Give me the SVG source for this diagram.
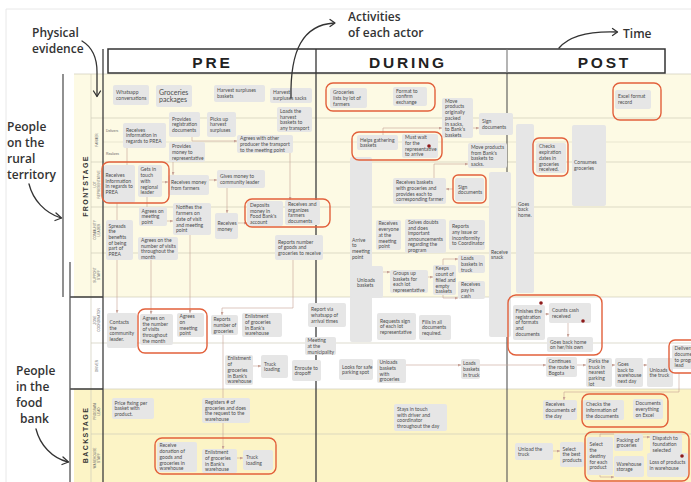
<svg xmlns="http://www.w3.org/2000/svg" width="691" height="482" viewBox="0 0 691 482">
<defs>
<style>
.n{fill:#e6e6e6}
.t{font-family:Lato,"Open Sans","Liberation Sans",sans-serif;font-size:5px;fill:#4d4d4d}
.tb{font-family:Lato,"Open Sans","Liberation Sans",sans-serif;font-size:7px;fill:#4d4d4d}
.hl{fill:none;stroke:#e2603b;stroke-width:1.4}
.c{fill:none;stroke:#c7a196;stroke-width:0.6}
.ca{fill:none;stroke:#c7a196;stroke-width:0.6;marker-end:url(#ah)}
.row{stroke:#cfccb9;stroke-width:0.7}
.dk{stroke:#3d3d3d;stroke-width:1.3}
.ann{font-family:"Open Sans","Noto Sans",sans-serif;font-size:12px;font-weight:600;fill:#333}
.annl{fill:none;stroke:#333;stroke-width:1.3;stroke-linecap:round;stroke-linejoin:round}
.role{font-family:"Liberation Sans",sans-serif;font-size:3.2px;fill:#666;text-anchor:middle}
.sub{font-family:"Liberation Sans",sans-serif;font-size:3.4px;fill:#666}
.stage{font-family:"Liberation Sans",sans-serif;font-size:7px;font-weight:bold;letter-spacing:1.4px;fill:#333;text-anchor:middle}
.hdr{font-family:"Liberation Sans",sans-serif;font-size:15.5px;font-weight:bold;letter-spacing:2.8px;fill:#222;text-anchor:middle}
.dot{fill:#8e1b1b}
</style>
<marker id="ah" viewBox="0 0 4 4" refX="4" refY="2" markerWidth="3" markerHeight="3" orient="auto" markerUnits="userSpaceOnUse"><path d="M0,0 L4,2 L0,4 z" fill="#c7a196"/></marker>
</defs>

<g id="background">
<rect x="0" y="0" width="691" height="482" fill="#ffffff"/>
<path d="M6,482 V9 H691" fill="none" stroke="#e8e8e8" stroke-width="1"/>
<rect x="74" y="74" width="617" height="223" fill="#fdfae4"/>
<rect x="74" y="389" width="617" height="93" fill="#fcf4c6"/>
</g>

<g id="grid">
<line class="row" x1="74" y1="74" x2="691" y2="74"/>
<line class="row" x1="91" y1="118" x2="691" y2="118"/>
<line class="row" x1="103" y1="142" x2="691" y2="142" stroke-opacity="0.6"/>
<line class="row" x1="91" y1="162" x2="691" y2="162"/>
<line class="row" x1="91" y1="207" x2="691" y2="207"/>
<line class="row" x1="91" y1="253" x2="691" y2="253"/>
<line class="row" x1="74" y1="297" x2="691" y2="297"/>
<line class="row" x1="91" y1="343" x2="691" y2="343"/>
<line class="row" x1="74" y1="389" x2="691" y2="389"/>
<line class="row" x1="91" y1="434" x2="691" y2="434" stroke="#b5b2a2"/>
<line class="row" x1="91" y1="74" x2="91" y2="482"/>
<line class="dk" x1="70" y1="297" x2="103" y2="297"/>
<line class="dk" x1="70" y1="389" x2="103" y2="389"/>
<line class="dk" x1="103" y1="49" x2="103" y2="482"/>
<line class="dk" x1="316" y1="73" x2="316" y2="482"/>
<line x1="507" y1="73" x2="507" y2="482" stroke="#555" stroke-width="1.1"/>
<line x1="63" y1="74" x2="63" y2="297" stroke="#555" stroke-width="1.3"/>
<line x1="70" y1="262" x2="70" y2="482" stroke="#555" stroke-width="1.3"/>
</g>

<g id="header">
<rect x="108" y="49" width="557" height="24" fill="#fff" stroke="#333" stroke-width="1.5"/>
<line x1="316" y1="49" x2="316" y2="73" stroke="#333" stroke-width="1.3"/>
<line x1="507" y1="49" x2="507" y2="73" stroke="#777" stroke-width="1.1"/>
<text class="hdr" x="212.4" y="68">PRE</text>
<text class="hdr" x="408" y="68">DURING</text>
<text class="hdr" x="604.4" y="68">POST</text>
</g>

<g id="lane-labels">
<text class="stage" transform="translate(87.5,186) rotate(-90)">FRONTSTAGE</text>
<text class="stage" transform="translate(87.5,435) rotate(-90)">BACKSTAGE</text>
<text class="role" transform="translate(98.2,140) rotate(-90)">FARMER</text>
<text class="role" transform="translate(96.3,184.5) rotate(-90)">LOT</text>
<text class="role" transform="translate(100.3,184.5) rotate(-90)">REPRESENTATIVE</text>
<text class="role" transform="translate(96.3,230) rotate(-90)">COMMUNITY</text>
<text class="role" transform="translate(100.3,230) rotate(-90)">LEADER</text>
<text class="role" transform="translate(96.3,275) rotate(-90)">SUPPORT</text>
<text class="role" transform="translate(100.3,275) rotate(-90)">STAFF</text>
<text class="role" transform="translate(96.3,320) rotate(-90)">ZONE</text>
<text class="role" transform="translate(100.3,320) rotate(-90)">COORDINATOR</text>
<text class="role" transform="translate(98.2,366) rotate(-90)">DRIVER</text>
<text class="role" transform="translate(96.3,411.5) rotate(-90)">PROGRAM</text>
<text class="role" transform="translate(100.3,411.5) rotate(-90)">LEAD</text>
<text class="role" transform="translate(96.3,458) rotate(-90)">WAREHOUSE</text>
<text class="role" transform="translate(100.3,458) rotate(-90)">STAFF</text>
<text class="sub" x="106" y="132">Delivers</text>
<text class="sub" x="106" y="155">Realizes</text>
</g>

<g id="connectors">
<path class="c" d="M127,148 V165"/>
<path class="ca" d="M192,137 V141 H237"/>
<path class="ca" d="M290,153 V200"/>
<path class="ca" d="M173,162 V175"/>
<path class="ca" d="M162,182 H168"/>
<path class="ca" d="M209,180 H217"/>
<path class="ca" d="M227,188 V213"/>
<path class="ca" d="M238,223 H247"/>
<path class="ca" d="M167,221 H173"/>
<path class="c" d="M147,197 V207"/>
<path class="c" d="M117,203 V220"/>
<path class="ca" d="M117,260 V313"/>
<path class="ca" d="M151,260 V314"/>
<path class="ca" d="M190,235 V313"/>
<path class="ca" d="M293,260 V308 H222 V315"/>
<path class="ca" d="M223,335 V449"/>
<path class="ca" d="M253,366 H261"/>
<path class="ca" d="M237,458 H243"/>
<path class="ca" d="M383,135 V128 H442"/>
<path class="ca" d="M473,128 H479"/>
<path class="ca" d="M434,178 V164 H468"/>
<path class="ca" d="M453,189 H446"/>
<path class="ca" d="M383,272 H390"/>
<path class="ca" d="M428,277 H433"/>
<path class="ca" d="M443,265 V259 H458"/>
<path class="ca" d="M443,295 V298 H458"/>
<path class="ca" d="M406,365 H461"/>
<path class="ca" d="M480,365 H546"/>
<path class="ca" d="M577,365 H586"/>
<path class="ca" d="M612,365 H615"/>
<path class="ca" d="M643,365 H647"/>
<path class="ca" d="M679,373 V392 H564 V400"/>
<path class="ca" d="M545,314 H549"/>
<path class="ca" d="M568,323 V337"/>
<path class="ca" d="M553,451 H560"/>
<path class="c" d="M600,437 V434 H614"/>
<path class="ca" d="M600,475 V477 H614"/>
<path class="ca" d="M643,437 H650"/>
</g>

<g id="pe-whatsapp"><rect class="n" x="113" y="85" width="36" height="20" rx="2"/><text class="t" y="93.9"><tspan x="116">Whatsapp</tspan><tspan x="116" dy="5.7">conversations</tspan></text></g>
<g id="pe-groceries"><rect class="n" x="156" y="85" width="36" height="22" rx="2"/><text class="tb" y="95"><tspan x="159">Groceries</tspan><tspan x="159" dy="7">packages</tspan></text></g>
<g id="pe-harvest-baskets"><rect class="n" x="214" y="85" width="51" height="17" rx="2"/><text class="t" y="92.4"><tspan x="217">Harvest surpluses</tspan><tspan x="217" dy="5.7">baskets</tspan></text></g>
<g id="pe-harvest-sacks"><rect class="n" x="270" y="88" width="42" height="15" rx="2"/><text class="t" y="94.4"><tspan x="273">Harvest</tspan><tspan x="273" dy="5.7">surpluses sacks</tspan></text></g>
<g id="pe-groceries-lists"><rect class="n" x="330" y="88" width="37" height="20" rx="2"/><text class="t" y="94.1"><tspan x="333">Groceries</tspan><tspan x="333" dy="5.7">lists by lot of</tspan><tspan x="333" dy="5.7">farmers</tspan></text></g>
<g id="pe-format"><rect class="n" x="393" y="87" width="34" height="19" rx="2"/><text class="t" y="92.6"><tspan x="396">Format to</tspan><tspan x="396" dy="5.7">confirm</tspan><tspan x="396" dy="5.7">exchange</tspan></text></g>
<g id="pe-excel"><rect class="n" x="615" y="90" width="36" height="19" rx="2"/><text class="t" y="98.4"><tspan x="618">Excel format</tspan><tspan x="618" dy="5.7">record</tspan></text></g>

<g id="f-receives-info"><rect class="n" x="123" y="123" width="43" height="25" rx="2"/><text class="t" y="131.6"><tspan x="126">Receives</tspan><tspan x="126" dy="5.7">information in</tspan><tspan x="126" dy="5.7">regards to PREA</tspan></text></g>
<g id="f-provides-reg"><rect class="n" x="169" y="112" width="31" height="25" rx="2"/><text class="t" y="120.6"><tspan x="172">Provides</tspan><tspan x="172" dy="5.7">registration</tspan><tspan x="172" dy="5.7">documents</tspan></text></g>
<g id="f-picks"><rect class="n" x="207" y="112" width="29" height="25" rx="2"/><text class="t" y="120.6"><tspan x="210">Picks up</tspan><tspan x="210" dy="5.7">harvest</tspan><tspan x="210" dy="5.7">surpluses</tspan></text></g>
<g id="f-loads"><rect class="n" x="277" y="107" width="35" height="25" rx="2"/><text class="t" y="112.8"><tspan x="280">Loads the</tspan><tspan x="280" dy="5.7">harvest</tspan><tspan x="280" dy="5.7">baskets to</tspan><tspan x="280" dy="5.7">any transport</tspan></text></g>
<g id="f-provides-money"><rect class="n" x="169" y="142" width="36" height="20" rx="2"/><text class="t" y="148.1"><tspan x="172">Provides</tspan><tspan x="172" dy="5.7">money to</tspan><tspan x="172" dy="5.7">representative</tspan></text></g>
<g id="f-agrees-transport"><rect class="n" x="237" y="135" width="56" height="18" rx="2"/><text class="t" y="140.1"><tspan x="240">Agrees with other</tspan><tspan x="240" dy="5.7">producer the transport</tspan><tspan x="240" dy="5.7">to the meeting point</tspan></text></g>
<g id="d-move-sacks"><rect class="n" x="442" y="98" width="31" height="40" rx="2"/><text class="t" y="102.7"><tspan x="445">Move</tspan><tspan x="445" dy="5.7">products</tspan><tspan x="445" dy="5.7">originally</tspan><tspan x="445" dy="5.7">packed</tspan><tspan x="445" dy="5.7">in sacks,</tspan><tspan x="445" dy="5.7">to Bank's</tspan><tspan x="445" dy="5.7">baskets</tspan></text></g>
<g id="d-sign1"><rect class="n" x="479" y="113" width="34" height="22" rx="2"/><text class="t" y="123"><tspan x="482">Sign</tspan><tspan x="482" dy="5.7">documents</tspan></text></g>
<g id="d-helps"><rect class="n" x="357" y="135" width="41" height="15" rx="2"/><text class="t" y="141.5"><tspan x="360">Helps gathering</tspan><tspan x="360" dy="5.7">baskets</tspan></text></g>
<g id="d-must-wait"><rect class="n" x="402" y="134" width="36" height="24" rx="2"/><text class="t" y="139.3"><tspan x="405">Must wait</tspan><tspan x="405" dy="5.7">for the</tspan><tspan x="405" dy="5.7">representative</tspan><tspan x="405" dy="5.7">to arrive</tspan></text></g>
<g id="d-move-baskets"><rect class="n" x="468" y="143" width="39" height="25" rx="2"/><text class="t" y="148.8"><tspan x="471">Move products</tspan><tspan x="471" dy="5.7">from Bank's</tspan><tspan x="471" dy="5.7">baskets to</tspan><tspan x="471" dy="5.7">sacks.</tspan></text></g>
<g id="po-checks-exp"><rect class="n" x="536" y="143" width="30" height="30" rx="2"/><text class="t" y="148.4"><tspan x="539">Checks</tspan><tspan x="539" dy="5.7">expiration</tspan><tspan x="539" dy="5.7">dates in</tspan><tspan x="539" dy="5.7">groceries</tspan><tspan x="539" dy="5.7">received.</tspan></text></g>
<g id="po-consumes"><rect class="n" x="572" y="125" width="34" height="81" rx="2"/><text class="t" y="164.4"><tspan x="574">Consumes</tspan><tspan x="574" dy="5.7">groceries</tspan></text></g>
<g id="po-goes-home"><rect class="n" x="516" y="124" width="18" height="169" rx="2"/><text class="t" y="205.5"><tspan x="518">Goes</tspan><tspan x="518" dy="5.7">back</tspan><tspan x="518" dy="5.7">home.</tspan></text></g>

<g id="l-receives-info"><rect class="n" x="104" y="165" width="31" height="38" rx="2"/><text class="t" y="177"><tspan x="105.5">Receives</tspan><tspan x="105.5" dy="5.7">information</tspan><tspan x="105.5" dy="5.7">in regards to</tspan><tspan x="105.5" dy="5.7">PREA</tspan></text></g>
<g id="l-gets"><rect class="n" x="138" y="165" width="24" height="32" rx="2"/><text class="t" y="171.4"><tspan x="140.5">Gets in</tspan><tspan x="140.5" dy="5.7">touch</tspan><tspan x="140.5" dy="5.7">with</tspan><tspan x="140.5" dy="5.7">regional</tspan><tspan x="140.5" dy="5.7">leader</tspan></text></g>
<g id="l-receives-money"><rect class="n" x="168" y="175" width="41" height="20" rx="2"/><text class="t" y="184"><tspan x="171">Receives money</tspan><tspan x="171" dy="5.7">from farmers</tspan></text></g>
<g id="l-gives"><rect class="n" x="217" y="170" width="48" height="18" rx="2"/><text class="t" y="178"><tspan x="220">Gives money to</tspan><tspan x="220" dy="5.7">community leader</tspan></text></g>
<g id="l-deposits"><rect class="n" x="247" y="201" width="36" height="25" rx="2"/><text class="t" y="206.8"><tspan x="250">Deposits</tspan><tspan x="250" dy="5.7">money in</tspan><tspan x="250" dy="5.7">Food Bank's</tspan><tspan x="250" dy="5.7">account</tspan></text></g>
<g id="l-receives-org"><rect class="n" x="285" y="200" width="35" height="25" rx="2"/><text class="t" y="205.8"><tspan x="288">Receives and</tspan><tspan x="288" dy="5.7">organizes</tspan><tspan x="288" dy="5.7">farmers</tspan><tspan x="288" dy="5.7">documents</tspan></text></g>
<g id="d-receives-baskets"><rect class="n" x="393" y="178" width="53" height="26" rx="2"/><text class="t" y="184.3"><tspan x="396">Receives baskets</tspan><tspan x="396" dy="5.7">with groceries and</tspan><tspan x="396" dy="5.7">provides each to</tspan><tspan x="396" dy="5.7">corresponding farmer</tspan></text></g>
<g id="d-sign2"><rect class="n" x="455" y="178" width="29" height="23" rx="2"/><text class="t" y="188.5"><tspan x="458">Sign</tspan><tspan x="458" dy="5.7">documents</tspan></text></g>

<g id="c-agrees-meeting"><rect class="n" x="139" y="207" width="28" height="19" rx="2"/><text class="t" y="212.6"><tspan x="141.5">Agrees on</tspan><tspan x="141.5" dy="5.7">meeting</tspan><tspan x="141.5" dy="5.7">point</tspan></text></g>
<g id="c-notifies"><rect class="n" x="173" y="203" width="38" height="32" rx="2"/><text class="t" y="209.4"><tspan x="176">Notifies the</tspan><tspan x="176" dy="5.7">farmers on</tspan><tspan x="176" dy="5.7">date of visit</tspan><tspan x="176" dy="5.7">and meeting</tspan><tspan x="176" dy="5.7">point</tspan></text></g>
<g id="c-receives-money"><rect class="n" x="215" y="213" width="23" height="26" rx="2"/><text class="t" y="225"><tspan x="217.5">Receives</tspan><tspan x="217.5" dy="5.7">money</tspan></text></g>
<g id="c-spreads"><rect class="n" x="106" y="220" width="27" height="40" rx="2"/><text class="t" y="227.6"><tspan x="108.5">Spreads</tspan><tspan x="108.5" dy="5.7">the</tspan><tspan x="108.5" dy="5.7">benefits</tspan><tspan x="108.5" dy="5.7">of being</tspan><tspan x="108.5" dy="5.7">part of</tspan><tspan x="108.5" dy="5.7">PREA</tspan></text></g>
<g id="c-agrees-visits"><rect class="n" x="138" y="237" width="40" height="23" rx="2"/><text class="t" y="241.8"><tspan x="141">Agrees on the</tspan><tspan x="141" dy="5.7">number of visits</tspan><tspan x="141" dy="5.7">throughout the</tspan><tspan x="141" dy="5.7">month</tspan></text></g>
<g id="c-reports"><rect class="n" x="275" y="235" width="48" height="25" rx="2"/><text class="t" y="243.6"><tspan x="278">Reports number</tspan><tspan x="278" dy="5.7">of goods and</tspan><tspan x="278" dy="5.7">groceries to receive</tspan></text></g>
<g id="d-arrive"><rect class="n" x="350" y="157" width="22" height="185" rx="2"/><text class="t" y="241.5"><tspan x="352">Arrive</tspan><tspan x="352" dy="5.7">to</tspan><tspan x="352" dy="5.7">meeting</tspan><tspan x="352" dy="5.7">point</tspan></text></g>
<g id="d-unloads"><rect class="n" x="350" y="266" width="33" height="32" rx="2"/><text class="t" y="281.5"><tspan x="357">Unloads</tspan><tspan x="357" dy="5.7">baskets</tspan></text></g>
<g id="d-receives-everyone"><rect class="n" x="376" y="220" width="25" height="30" rx="2"/><text class="t" y="225.4"><tspan x="378.5">Receives</tspan><tspan x="378.5" dy="5.7">everyone</tspan><tspan x="378.5" dy="5.7">at the</tspan><tspan x="378.5" dy="5.7">meeting</tspan><tspan x="378.5" dy="5.7">point</tspan></text></g>
<g id="d-solves"><rect class="n" x="405" y="219" width="41" height="34" rx="2"/><text class="t" y="224.1"><tspan x="408">Solves doubts</tspan><tspan x="408" dy="5.5">and does</tspan><tspan x="408" dy="5.5">important</tspan><tspan x="408" dy="5.5">announcements</tspan><tspan x="408" dy="5.5">regarding the</tspan><tspan x="408" dy="5.5">program</tspan></text></g>
<g id="d-reports-issue"><rect class="n" x="449" y="220" width="36" height="30" rx="2"/><text class="t" y="228.3"><tspan x="452">Reports</tspan><tspan x="452" dy="5.7">any issue or</tspan><tspan x="452" dy="5.7">inconformity</tspan><tspan x="452" dy="5.7">to Coordinator</tspan></text></g>
<g id="d-receive-snack"><rect class="n" x="489" y="172" width="22" height="165" rx="2"/><text class="t" y="253.5"><tspan x="491">Receive</tspan><tspan x="491" dy="5.7">snack</tspan></text></g>
<g id="d-groups"><rect class="n" x="390" y="270" width="38" height="23" rx="2"/><text class="t" y="274.8"><tspan x="393">Groups up</tspan><tspan x="393" dy="5.7">baskets for</tspan><tspan x="393" dy="5.7">each lot</tspan><tspan x="393" dy="5.7">representative</tspan></text></g>
<g id="d-keeps"><rect class="n" x="433" y="265" width="23" height="30" rx="2"/><text class="t" y="270.4"><tspan x="435.5">Keeps</tspan><tspan x="435.5" dy="5.7">count of</tspan><tspan x="435.5" dy="5.7">filled and</tspan><tspan x="435.5" dy="5.7">empty</tspan><tspan x="435.5" dy="5.7">baskets</tspan></text></g>
<g id="d-loads-truck"><rect class="n" x="458" y="255" width="27" height="18" rx="2"/><text class="t" y="260.1"><tspan x="461">Loads</tspan><tspan x="461" dy="5.7">baskets in</tspan><tspan x="461" dy="5.7">truck</tspan></text></g>
<g id="d-receives-pay"><rect class="n" x="458" y="281" width="27" height="18" rx="2"/><text class="t" y="286.1"><tspan x="461">Receives</tspan><tspan x="461" dy="5.7">pay in</tspan><tspan x="461" dy="5.7">cash</tspan></text></g>

<g id="z-contacts"><rect class="n" x="107" y="313" width="30" height="35" rx="2"/><text class="t" y="323.8"><tspan x="109.5">Contacts</tspan><tspan x="109.5" dy="5.7">the</tspan><tspan x="109.5" dy="5.7">community</tspan><tspan x="109.5" dy="5.7">leader.</tspan></text></g>
<g id="z-agrees-visits"><rect class="n" x="140" y="314" width="33" height="31" rx="2"/><text class="t" y="319.9"><tspan x="142.5">Agrees on</tspan><tspan x="142.5" dy="5.7">the number</tspan><tspan x="142.5" dy="5.7">of visits</tspan><tspan x="142.5" dy="5.7">throughout</tspan><tspan x="142.5" dy="5.7">the month</tspan></text></g>
<g id="z-agrees-meeting"><rect class="n" x="177" y="313" width="27" height="24" rx="2"/><text class="t" y="318.3"><tspan x="179.5">Agrees</tspan><tspan x="179.5" dy="5.7">on</tspan><tspan x="179.5" dy="5.7">meeting</tspan><tspan x="179.5" dy="5.7">point</tspan></text></g>
<g id="z-reports"><rect class="n" x="211" y="315" width="27" height="20" rx="2"/><text class="t" y="321.1"><tspan x="213.5">Reports</tspan><tspan x="213.5" dy="5.7">number of</tspan><tspan x="213.5" dy="5.7">groceries</tspan></text></g>
<g id="z-enlistment"><rect class="n" x="242" y="313" width="40" height="24" rx="2"/><text class="t" y="318.3"><tspan x="245">Enlistment</tspan><tspan x="245" dy="5.7">of groceries</tspan><tspan x="245" dy="5.7">in Bank's</tspan><tspan x="245" dy="5.7">warehouse</tspan></text></g>
<g id="d-report-whatsapp"><rect class="n" x="308" y="303" width="38" height="24" rx="2"/><text class="t" y="311.1"><tspan x="311">Report via</tspan><tspan x="311" dy="5.7">whatsapp of</tspan><tspan x="311" dy="5.7">arrival times</tspan></text></g>
<g id="d-meeting-municipality"><rect class="n" x="305" y="337" width="31" height="18" rx="2"/><text class="t" y="342.1"><tspan x="307.5">Meeting</tspan><tspan x="307.5" dy="5.7">at the</tspan><tspan x="307.5" dy="5.7">municipality</tspan></text></g>
<g id="d-requests"><rect class="n" x="377" y="313" width="39" height="27" rx="2"/><text class="t" y="322.6"><tspan x="380">Requests sign</tspan><tspan x="380" dy="5.7">of each lot</tspan><tspan x="380" dy="5.7">representative</tspan></text></g>
<g id="d-fills"><rect class="n" x="419" y="315" width="32" height="25" rx="2"/><text class="t" y="323.6"><tspan x="422">Fills in all</tspan><tspan x="422" dy="5.7">documents</tspan><tspan x="422" dy="5.7">required.</tspan></text></g>
<g id="po-finishes"><rect class="n" x="513" y="305" width="32" height="35" rx="2"/><text class="t" y="312.9"><tspan x="515.5">Finishes the</tspan><tspan x="515.5" dy="5.7">registration</tspan><tspan x="515.5" dy="5.7">of formats</tspan><tspan x="515.5" dy="5.7">and</tspan><tspan x="515.5" dy="5.7">documents</tspan></text></g>
<g id="po-counts"><rect class="n" x="549" y="303" width="42" height="20" rx="2"/><text class="t" y="312"><tspan x="552">Counts cash</tspan><tspan x="552" dy="5.7">received</tspan></text></g>
<g id="po-goes-home2"><rect class="n" x="547" y="337" width="46" height="15" rx="2"/><text class="t" y="343.5"><tspan x="550">Goes back home</tspan><tspan x="550" dy="5.7">on her/his own</tspan></text></g>

<g id="dr-enlistment"><rect class="n" x="225" y="355" width="28" height="30" rx="2"/><text class="t" y="360.4"><tspan x="227.5">Enlistment</tspan><tspan x="227.5" dy="5.7">of</tspan><tspan x="227.5" dy="5.7">groceries</tspan><tspan x="227.5" dy="5.7">in Bank's</tspan><tspan x="227.5" dy="5.7">warehouse</tspan></text></g>
<g id="dr-truck"><rect class="n" x="261" y="355" width="27" height="23" rx="2"/><text class="t" y="365.5"><tspan x="264">Truck</tspan><tspan x="264" dy="5.7">loading</tspan></text></g>
<g id="dr-enroute"><rect class="n" x="292" y="360" width="29" height="21" rx="2"/><text class="t" y="369.5"><tspan x="294.5">Enroute to</tspan><tspan x="294.5" dy="5.7">dropoff</tspan></text></g>
<g id="dr-looks"><rect class="n" x="339" y="359" width="34" height="21" rx="2"/><text class="t" y="368.5"><tspan x="342">Looks for safe</tspan><tspan x="342" dy="5.7">parking spot</tspan></text></g>
<g id="dr-unloads"><rect class="n" x="377" y="359" width="29" height="24" rx="2"/><text class="t" y="364.3"><tspan x="379.5">Unloads</tspan><tspan x="379.5" dy="5.7">baskets</tspan><tspan x="379.5" dy="5.7">with</tspan><tspan x="379.5" dy="5.7">groceries</tspan></text></g>
<g id="dr-loads"><rect class="n" x="461" y="359" width="19" height="20" rx="2"/><text class="t" y="365.1"><tspan x="463">Loads</tspan><tspan x="463" dy="5.7">baskets</tspan><tspan x="463" dy="5.7">in truck</tspan></text></g>
<g id="dr-continues"><rect class="n" x="546" y="357" width="31" height="20" rx="2"/><text class="t" y="363.1"><tspan x="548.5">Continues</tspan><tspan x="548.5" dy="5.7">the route to</tspan><tspan x="548.5" dy="5.7">Bogota</tspan></text></g>
<g id="dr-parks"><rect class="n" x="586" y="358" width="26" height="29" rx="2"/><text class="t" y="362.9"><tspan x="588.5">Parks the</tspan><tspan x="588.5" dy="5.7">truck in</tspan><tspan x="588.5" dy="5.7">nearest</tspan><tspan x="588.5" dy="5.7">parking</tspan><tspan x="588.5" dy="5.7">lot</tspan></text></g>
<g id="dr-goes-back"><rect class="n" x="615" y="358" width="28" height="29" rx="2"/><text class="t" y="365.8"><tspan x="617.5">Goes</tspan><tspan x="617.5" dy="5.7">back to</tspan><tspan x="617.5" dy="5.7">warehouse</tspan><tspan x="617.5" dy="5.7">next day</tspan></text></g>
<g id="dr-unloads-truck"><rect class="n" x="647" y="358" width="26" height="29" rx="2"/><text class="t" y="371.5"><tspan x="649.5">Unloads</tspan><tspan x="649.5" dy="5.7">the truck</tspan></text></g>
<g id="dr-delivers"><rect class="n" x="672" y="345" width="30" height="24" rx="2"/><text class="t" y="350.3"><tspan x="674.5">Delivers</tspan><tspan x="674.5" dy="5.7">documents</tspan><tspan x="674.5" dy="5.7">to program</tspan><tspan x="674.5" dy="5.7">lead</tspan></text></g>

<g id="p-price"><rect class="n" x="112" y="398" width="42" height="21" rx="2"/><text class="t" y="404.6"><tspan x="114.5">Price fixing per</tspan><tspan x="114.5" dy="5.7">basket with</tspan><tspan x="114.5" dy="5.7">product.</tspan></text></g>
<g id="p-registers"><rect class="n" x="202" y="398" width="48" height="25" rx="2"/><text class="t" y="403.8"><tspan x="205">Registers # of</tspan><tspan x="205" dy="5.7">groceries and does</tspan><tspan x="205" dy="5.7">the request to the</tspan><tspan x="205" dy="5.7">warehouse</tspan></text></g>
<g id="p-stays"><rect class="n" x="394" y="404" width="53" height="27" rx="2"/><text class="t" y="410.8"><tspan x="397">Stays in touch</tspan><tspan x="397" dy="5.7">with driver and</tspan><tspan x="397" dy="5.7">coordinator</tspan><tspan x="397" dy="5.7">throughout the day</tspan></text></g>
<g id="p-receives-docs"><rect class="n" x="543" y="400" width="34" height="20" rx="2"/><text class="t" y="406.1"><tspan x="545.5">Receives</tspan><tspan x="545.5" dy="5.7">documents of</tspan><tspan x="545.5" dy="5.7">the day</tspan></text></g>
<g id="p-checks"><rect class="n" x="583" y="400" width="41" height="20" rx="2"/><text class="t" y="406.1"><tspan x="586">Checks the</tspan><tspan x="586" dy="5.7">information of</tspan><tspan x="586" dy="5.7">the documents</tspan></text></g>
<g id="p-documents"><rect class="n" x="633" y="399" width="30" height="20" rx="2"/><text class="t" y="405.1"><tspan x="635.5">Documents</tspan><tspan x="635.5" dy="5.7">everything</tspan><tspan x="635.5" dy="5.7">on Excel</tspan></text></g>

<g id="w-receive-donation"><rect class="n" x="157" y="442" width="40" height="30" rx="2"/><text class="t" y="447.4"><tspan x="159.5">Receive</tspan><tspan x="159.5" dy="5.7">donation of</tspan><tspan x="159.5" dy="5.7">goods and</tspan><tspan x="159.5" dy="5.7">groceries in</tspan><tspan x="159.5" dy="5.7">warehouse</tspan></text></g>
<g id="w-enlistment"><rect class="n" x="202" y="449" width="35" height="24" rx="2"/><text class="t" y="454.3"><tspan x="205">Enlistment</tspan><tspan x="205" dy="5.7">of groceries</tspan><tspan x="205" dy="5.7">in Bank's</tspan><tspan x="205" dy="5.7">warehouse</tspan></text></g>
<g id="w-truck"><rect class="n" x="243" y="450" width="30" height="20" rx="2"/><text class="t" y="459"><tspan x="246">Truck</tspan><tspan x="246" dy="5.7">loading</tspan></text></g>
<g id="w-unload"><rect class="n" x="515" y="443" width="38" height="17" rx="2"/><text class="t" y="450.5"><tspan x="518">Unload the</tspan><tspan x="518" dy="5.7">truck</tspan></text></g>
<g id="w-select-best"><rect class="n" x="560" y="442" width="24" height="25" rx="2"/><text class="t" y="450.6"><tspan x="562.5">Select</tspan><tspan x="562.5" dy="5.7">the best</tspan><tspan x="562.5" dy="5.7">products</tspan></text></g>
<g id="w-select-destiny"><rect class="n" x="587" y="437" width="26" height="38" rx="2"/><text class="t" y="446.4"><tspan x="589.5">Select</tspan><tspan x="589.5" dy="5.7">the</tspan><tspan x="589.5" dy="5.7">destiny</tspan><tspan x="589.5" dy="5.7">for each</tspan><tspan x="589.5" dy="5.7">product</tspan></text></g>
<g id="w-packing"><rect class="n" x="614" y="434" width="29" height="17" rx="2"/><text class="t" y="441.5"><tspan x="616.5">Packing of</tspan><tspan x="616.5" dy="5.7">groceries</tspan></text></g>
<g id="w-dispatch"><rect class="n" x="650" y="434" width="32" height="20" rx="2"/><text class="t" y="440.1"><tspan x="652.5">Dispatch to</tspan><tspan x="652.5" dy="5.7">foundation</tspan><tspan x="652.5" dy="5.7">selected</tspan></text></g>
<g id="w-storage"><rect class="n" x="614" y="456" width="30" height="21" rx="2"/><text class="t" y="465.5"><tspan x="616.5">Warehouse</tspan><tspan x="616.5" dy="5.7">storage</tspan></text></g>
<g id="w-loss"><rect class="n" x="647" y="453" width="41" height="24" rx="2"/><text class="t" y="464"><tspan x="649.5">Loss of products</tspan><tspan x="649.5" dy="5.7">in warehouse</tspan></text></g>

<g id="highlights">
<rect class="hl" x="326" y="83" width="109" height="28" rx="7"/>
<rect class="hl" x="102" y="162" width="67" height="41" rx="7"/>
<rect class="hl" x="245" y="199" width="85" height="28" rx="7"/>
<rect class="hl" x="352" y="132" width="90" height="28" rx="7"/>
<rect class="hl" x="453" y="175" width="33" height="28" rx="5"/>
<rect class="hl" x="613" y="83" width="48" height="37" rx="7"/>
<rect class="hl" x="533" y="138" width="35" height="38" rx="6"/>
<rect class="hl" x="138" y="309" width="69" height="44" rx="7"/>
<rect class="hl" x="508" y="295" width="94" height="60" rx="8"/>
<rect class="hl" x="669" y="340" width="40" height="33" rx="6"/>
<rect class="hl" x="582" y="394" width="86" height="33" rx="7"/>
<rect class="hl" x="155" y="438" width="121" height="36" rx="7"/>
<rect class="hl" x="585" y="432" width="104" height="49" rx="7"/>
</g>

<g id="markers">
<circle class="dot" cx="429" cy="146" r="1.8"/>
<circle class="dot" cx="541" cy="303" r="1.8"/>
<circle class="dot" cx="583" cy="321" r="1.8"/>
<circle class="dot" cx="682" cy="456" r="1.8"/>
</g>

<g id="annotations">
<text class="ann" x="32" y="37">Physical</text>
<text class="ann" x="32" y="53">evidence</text>
<path class="annl" d="M82,41 Q97,50 97,72 L97,96"/>
<path class="annl" d="M93.5,91 L97,96.5 L100.5,91"/>
<text class="ann" x="348" y="21">Activities</text>
<text class="ann" x="348" y="37">of each actor</text>
<path class="annl" d="M291,98 C290,50 303,25 334,23"/>
<path class="annl" d="M330,19.5 L335,23 L330,26.5"/>
<text class="ann" x="623" y="38">Time</text>
<path class="annl" d="M559,48 C570,35 590,31 617,32"/>
<path class="annl" d="M612.5,28.5 L617.5,32 L612.5,35.5"/>
<text class="ann" x="7" y="131">People</text>
<text class="ann" x="7" y="147">on the</text>
<text class="ann" x="7" y="163">rural</text>
<text class="ann" x="7" y="179">territory</text>
<path class="annl" d="M29,184 C33,200 45,213 61,218"/>
<path class="annl" d="M56,213 L61.5,218 L55,220.5"/>
<text class="ann" x="16" y="375">People</text>
<text class="ann" x="16" y="391">in the</text>
<text class="ann" x="16" y="407">food</text>
<text class="ann" x="20" y="423">bank</text>
<path class="annl" d="M36,429 C40,445 52,458 68,462"/>
<path class="annl" d="M63,457 L68.5,462 L62,464.5"/>
</g>
</svg>
